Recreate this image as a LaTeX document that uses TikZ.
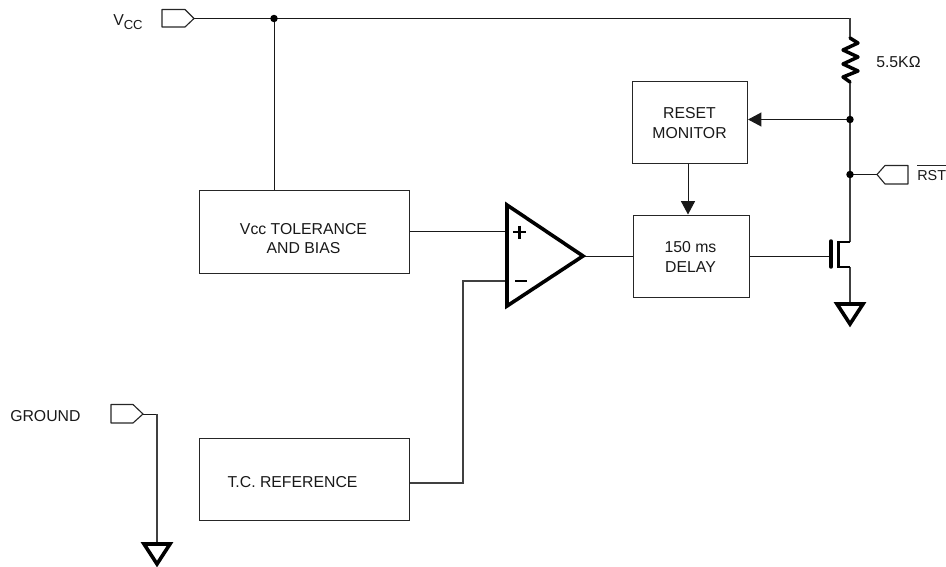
\documentclass[tikz,border=0pt]{standalone}
\usepackage{fontspec}
\setmainfont{Liberation Sans}
\usetikzlibrary{arrows.meta}
\newcommand{\lbl}{\fontsize{11.85pt}{15pt}\selectfont}
\tikzset{
  x=0.75pt,y=-0.75pt,
  wire/.style={draw=black!75,line width=0.85pt},
  fine/.style={draw=black!90,line width=0.75pt},
  blockbox/.style={draw=black!85,line width=0.8pt,fill=white,inner sep=0pt,align=center,font=\lbl,anchor=north west},
  txt/.style={font=\lbl,inner sep=0pt,text=black!90},
  heavy/.style={draw=black,line width=2.7pt,line join=miter},
  pin/.style={draw=black!85,line width=0.85pt,line join=round},
  joint/.style={circle,fill=black,inner sep=0pt,minimum size=5.6pt},
  into/.style={-{Triangle[length=10pt,width=10.5pt]}},
}
\begin{document}
\begin{tikzpicture}
\useasboundingbox (0,0) rectangle (946,567);
% blocks
\node[blockbox,minimum width=157.5pt,minimum height=62.25pt] (tol) at (199,190) {};
\node[blockbox,minimum width=157.5pt,minimum height=61.5pt] (ref) at (199,438) {};
\node[blockbox,minimum width=86.25pt,minimum height=61.5pt] (mon) at (632,81) {};
\node[blockbox,minimum width=87pt,minimum height=61.5pt] (dly) at (633,214.5) {};
\node[txt,align=center] (tolt) at (303.5,238.5) {Vcc TOLERANCE\\[-0.4pt]AND BIAS};
\node[txt] (reft) at (292.5,482) {T.C. REFERENCE};
\node[txt,align=center] (mont) at (689.5,123) {RESET\\[-0.4pt]MONITOR};
\node[txt,align=center] (dlyt) at (690.5,257) {150 ms\\[-0.4pt]DELAY};
% labels
\node[txt,anchor=base west] (vcc) at (113,25.7) {V\raisebox{-3.2pt}{\fontsize{9.8pt}{10pt}\selectfont CC}};
\node[txt,anchor=base west] (gnd) at (10,421.5) {GROUND};
\node[txt,anchor=base west] (res) at (876,67.5) {5.5KΩ};
\node[txt,anchor=base west,font=\fontsize{10.8pt}{13pt}\selectfont] (rst) at (917,180) {RST};
\draw[line width=0.8pt,black!85] (rst.west |- 0,165.5) -- (946,165.5);
% coordinates
\coordinate (vtip) at (194,18.5);
\coordinate (gtip) at (143,414);
\coordinate (gcorner) at (157,414);
\coordinate (gtri) at (157,544);
\coordinate (rtip) at (877,174.5);
\coordinate (corner) at (850,18.5);
\coordinate (rtop) at (850,38);
\coordinate (rbot) at (850,82);
\coordinate (jv) at (274,18.5);
\coordinate (jm) at (850,119.5);
\coordinate (jr) at (850,174.5);
\coordinate (drain) at (850,242);
\coordinate (source) at (850,267);
\coordinate (ntri) at (850,304);
\coordinate (gate) at (831,256);
\coordinate (ampout) at (583,256);
\coordinate (ampp) at (507,231);
\coordinate (ampm) at (507,281);
% wires
\draw[fine] (vtip) -- (corner);
\draw[wire] (corner) -- (rtop);
\draw[fine] (jv) -- (tol.north -| jv);
\draw[wire] (rbot) -- (drain);
\draw[fine] (jr) -- (rtip);
\draw[fine] (tol.east |- ampp) -- (ampp);
\draw[wire] (ref.east |- 0,483) -- (463,483) |- (ampm);
\draw[fine] (ampout) -- (dly.west |- ampout);
\draw[fine] (dly.east |- gate) -- (gate);
\draw[wire] (source) -- (ntri);
\draw[fine] (gtip) -- (gcorner);
\draw[wire] (gcorner) -- (gtri);
\draw[fine,into] (mon.south -| 688,0) -- (dly.north -| 688,0);
\draw[fine,into] (jm) -- (mon.east |- jm);
% dots
\node[joint] at (jv) {};
\node[joint] at (jm) {};
\node[joint] at (jr) {};
% pins
\draw[pin] (vtip) -- (185,27) -- (162,27) -- (162,9.5) -- (185,9.5) -- cycle;
\draw[pin] (gtip) -- (133,423) -- (111,423) -- (111,404.5) -- (133,404.5) -- cycle;
\draw[pin] (rtip) -- (885,165.5) -- (908,165.5) -- (908,184) -- (885,184) -- cycle;
% resistor
\draw[draw=black,line width=2.6pt,line join=round,line cap=round] (rtop) -- (858,43) -- (843,50) -- (858,57) -- (843,64) -- (858,71) -- (843,77) -- (rbot);
% op amp
\draw[heavy] (507,205) -- (ampout) -- (507,306) -- cycle;
\draw[line width=1.6pt] (513,232) -- (526,232) (519.5,225.5) -- (519.5,238.5);
\draw[line width=1.6pt] (515,281) -- (527,281);
% mosfet
\draw[draw=black,line width=2.6pt,line cap=round] (831,241) -- (831,267);
\draw[draw=black,line width=2.2pt,line join=miter] (drain) -- (838.5,242) -- (838.5,267) -- (source);
% grounds
\draw[heavy] (ntri) ++(-13,0) -- ++(26,0) -- (850,324) -- cycle;
\draw[heavy] (gtri) ++(-13,0) -- ++(26,0) -- (157,564) -- cycle;
\end{tikzpicture}
\end{document}
